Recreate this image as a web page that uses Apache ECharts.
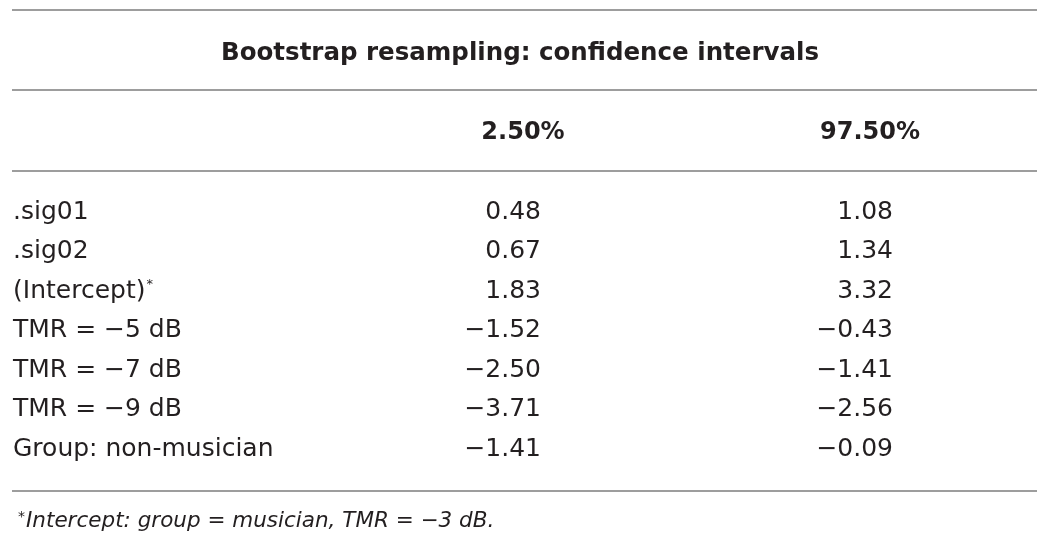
<!DOCTYPE html>
<html lang="en">
<head>
    <meta charset="utf-8" />
    <title>Bootstrap resampling</title>
    <script type="text/javascript" src="https://cdn.jsdelivr.net/npm/echarts@6/dist/echarts.min.js"></script>
    <style type="text/css">
        html, body { margin: 0; padding: 0; background: #fff; }
    </style>
</head>
<body>

    <div id="main" style="width:1050px;height:546px;"></div>

    <script type="text/javascript">

        var tableTitle = 'Bootstrap resampling: confidence intervals';
        var columns = ['2.50%', '97.50%'];
        var rowNames = ['.sig01', '.sig02', '(Intercept)*', 'TMR = \u22125 dB', 'TMR = \u22127 dB', 'TMR = \u22129 dB', 'Group: non-musician'];
        var lower = [0.48, 0.67, 1.83, -1.52, -2.50, -3.71, -1.41];
        var upper = [1.08, 1.34, 3.32, -0.43, -1.41, -2.56, -0.09];
        var footnote = 'Intercept: group = musician, TMR = \u22123 dB.';

        var FONT = 'DejaVu Sans';
        var INK = '#231f20';
        var RULE = '#9d9d9d';

        function fmt(v) {
            return v.toFixed(2).replace('-', '\u2212');
        }

        function cells(col, vals) {
            var out = [];
            for (var i = 0; i < vals.length; i++) {
                out.push([columns[col], rowNames[i], vals[i]]);
            }
            return out;
        }

        function rule(y) {
            return {
                type: 'line',
                shape: { x1: 12, y1: y, x2: 1037, y2: y },
                style: { stroke: RULE, lineWidth: 2 },
                silent: true
            };
        }

        function valueLabel(dx) {
            return {
                show: true,
                position: 'inside',
                align: 'right',
                offset: [dx, 0],
                fontFamily: FONT,
                fontSize: 25,
                color: INK,
                opacity: 1,
                textBorderWidth: 0,
                textBorderColor: 'transparent',
                formatter: function (p) { return fmt(p.value[2]); }
            };
        }

        var myChart = echarts.init(document.getElementById('main'));

        var option = {
            animation: false,
            backgroundColor: '#fff',
            title: [{
                text: tableTitle,
                left: 216,
                top: 36,
                textStyle: { fontFamily: FONT, fontSize: 24.5, fontWeight: 'bold', color: INK }
            }, {
                text: '{sup|*}' + footnote,
                left: 13,
                top: 505,
                textStyle: {
                    fontFamily: FONT, fontSize: 21.5, fontStyle: 'italic', fontWeight: 'normal', color: INK,
                    rich: {
                        sup: { fontFamily: FONT, fontSize: 14, color: INK, verticalAlign: 'top', padding: [0, 1, 8, 0] }
                    }
                }
            }],
            graphic: [rule(10), rule(90), rule(171), rule(491)],
            grid: {
                left: 349.5,
                right: 6.5,
                top: 192.25,
                bottom: 77.25
            },
            xAxis: {
                type: 'category',
                position: 'top',
                data: columns,
                axisLine: { show: false },
                axisTick: { show: false },
                splitLine: { show: false },
                axisLabel: {
                    margin: 59,
                    verticalAlign: 'middle',
                    fontFamily: FONT,
                    fontSize: 24,
                    fontWeight: 'bold',
                    color: INK
                }
            },
            yAxis: {
                type: 'category',
                inverse: true,
                data: rowNames,
                axisLine: { show: false },
                axisTick: { show: false },
                splitLine: { show: false },
                axisLabel: {
                    margin: 336.5,
                    align: 'left',
                    fontFamily: FONT,
                    fontSize: 25,
                    color: INK,
                    formatter: function (v) {
                        if (v.charAt(v.length - 1) == '*')
                            return v.slice(0, -1) + '{sup|*}';
                        return v;
                    },
                    rich: {
                        sup: { fontFamily: FONT, fontSize: 13, color: INK, verticalAlign: 'top', padding: [0, 0, 10, 1] }
                    }
                }
            },
            series: [{
                name: columns[0],
                type: 'scatter',
                symbolSize: 1,
                itemStyle: { color: INK, opacity: 0 },
                silent: true,
                data: cells(0, lower),
                label: valueLabel(18)
            }, {
                name: columns[1],
                type: 'scatter',
                symbolSize: 1,
                itemStyle: { color: INK, opacity: 0 },
                silent: true,
                data: cells(1, upper),
                label: valueLabel(23)
            }]
        };
        myChart.setOption(option, true);

    </script>
</body>
</html>
